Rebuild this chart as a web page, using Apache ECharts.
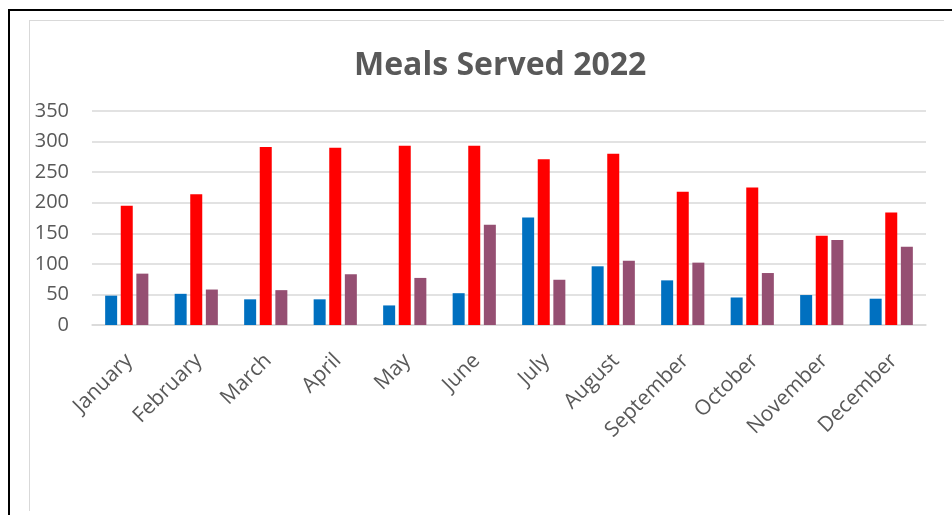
<!DOCTYPE html>
<html>
<head>
<meta charset="utf-8">
<script src="https://cdn.jsdelivr.net/npm/echarts@6/dist/echarts.min.js"></script>
<style>
  html, body { margin: 0; padding: 0; background: #fff; }
  #frame { position: absolute; left: 8px; top: 9px; width: 960px; height: 520px;
           border-left: 2px solid #000; border-top: 2px solid #000; }
  #inner { position: absolute; left: 29px; top: 20px; width: 914px; height: 490px;
           border-left: 1px solid #D9D9D9; border-top: 1px solid #D9D9D9; }
  #chart { position: absolute; left: 0; top: 0; width: 952px; height: 515px; }
</style>
</head>
<body>
<div id="frame"></div>
<div id="inner"></div>
<div id="chart"></div>
<script>
const titleText = 'Meals Served 2022';
const categories = ['January','February','March','April','May','June','July','August','September','October','November','December'];
const seriesBlue   = [48, 51, 42, 42, 32, 52, 176, 96, 73, 45, 49, 43];
const seriesRed    = [195, 214, 291, 290, 293, 293, 271, 280, 218, 225, 146, 184];
const seriesPurple = [84, 58, 57, 83, 77, 164, 74, 105, 102, 85, 139, 128];
const yTicks = { min: 0, max: 350, interval: 50 };

const chart = echarts.init(document.getElementById('chart'), null, { renderer: 'canvas' });
const font = '"Open Sans", "DejaVu Sans", sans-serif';
const mk = (data, color) => ({
  type: 'bar', data: data, barWidth: 12, barGap: '30%',
  itemStyle: { color: color }, silent: true, animation: false
});
chart.setOption({
  animation: false,
  backgroundColor: 'transparent',
  title: {
    text: titleText, left: 354, top: 50, padding: 0,
    textStyle: { fontFamily: font, fontSize: 32, fontWeight: 'bold', color: '#595959', lineHeight: 32 }
  },
  grid: { left: 92, right: 26, top: 111, bottom: 190, containLabel: false },
  xAxis: {
    type: 'category', data: categories,
    axisLine: { lineStyle: { color: '#D9D9D9', width: 1.5 } },
    axisTick: { show: false },
    axisLabel: { rotate: 45, fontFamily: font, fontSize: 21, color: '#595959', margin: 20, interval: 0,
                 align: 'right', verticalAlign: 'top', padding: [0, 7, 0, 0] }
  },
  yAxis: {
    type: 'value', min: yTicks.min, max: yTicks.max, interval: yTicks.interval,
    axisLine: { show: false }, axisTick: { show: false },
    splitLine: { lineStyle: { color: '#D9D9D9', width: 1.5 } },
    axisLabel: { fontFamily: font, fontSize: 20, color: '#595959', margin: 23 }
  },
  series: [mk(seriesBlue, '#0070C0'), mk(seriesRed, '#FF0000'), mk(seriesPurple, '#954F72')]
});
</script>
</body>
</html>
